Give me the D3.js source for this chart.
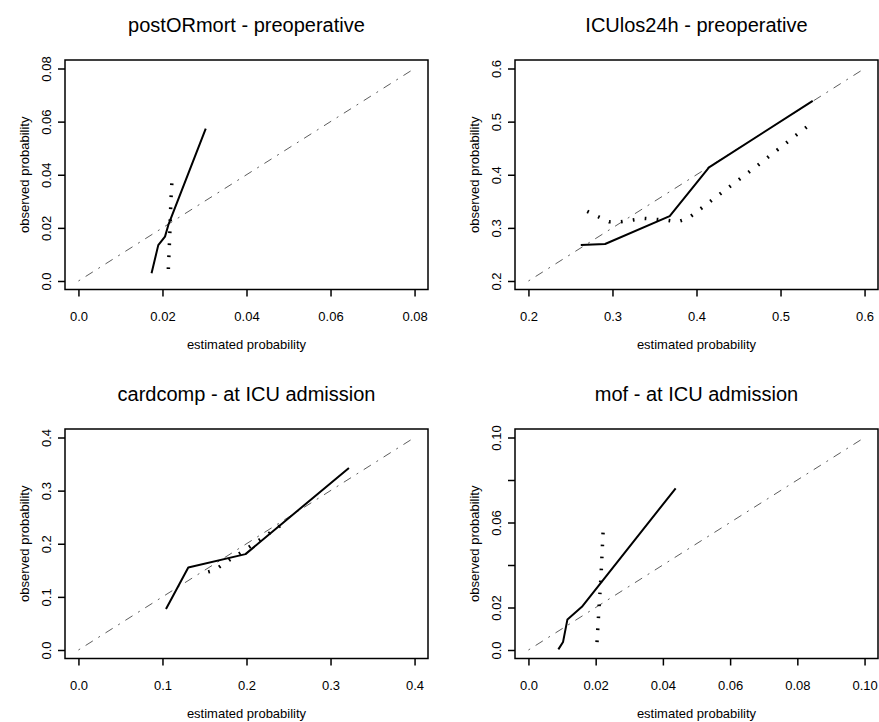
<!DOCTYPE html>
<html>
<head>
<meta charset="utf-8">
<script src="https://cdnjs.cloudflare.com/ajax/libs/d3/7.8.5/d3.min.js"></script>
<style>
  body { margin: 0; background: #fff; }
  svg { display: block; font-family: "Liberation Sans", Arial, Helvetica, sans-serif; }
</style>
</head>
<body>
<script>
var titles = ['postORmort - preoperative', 'ICUlos24h - preoperative', 'cardcomp - at ICU admission', 'mof - at ICU admission'];

var limits = [[0, 0.08], [0.2, 0.6], [0, 0.4], [0, 0.10]];

var tickValues = [
  [0, 0.02, 0.04, 0.06, 0.08],
  [0.2, 0.3, 0.4, 0.5, 0.6],
  [0, 0.1, 0.2, 0.3, 0.4],
  [0, 0.02, 0.04, 0.06, 0.08, 0.10]
];
var xTickLabels = [
  ['0.0', '0.02', '0.04', '0.06', '0.08'],
  ['0.2', '0.3', '0.4', '0.5', '0.6'],
  ['0.0', '0.1', '0.2', '0.3', '0.4'],
  ['0.0', '0.02', '0.04', '0.06', '0.08', '0.10']
];
var yTickLabels = [
  ['0.0', '0.02', '0.04', '0.06', '0.08'],
  ['0.2', '0.3', '0.4', '0.5', '0.6'],
  ['0.0', '0.1', '0.2', '0.3', '0.4'],
  ['0.0', '0.02', '', '0.06', '', '0.10']
];

// solid = calibration curve, dotted = second curve
var postORmortSolid = [[0.0174, 0.0029], [0.0190, 0.0135], [0.0206, 0.0167], [0.0214, 0.0211], [0.0303, 0.0574]];
var postORmortDotted = [[0.0214, 0.0045], [0.0216, 0.012], [0.0218, 0.020], [0.0220, 0.030], [0.0223, 0.039]];

var icuSolid = [[0.2623, 0.2677], [0.2912, 0.2696], [0.3681, 0.3222], [0.4149, 0.4138], [0.5383, 0.5391]];
var icuDotted = [[0.2700, 0.3310], [0.2832, 0.3209], [0.2960, 0.3115], [0.3099, 0.3115], [0.3364, 0.3179],
  [0.3634, 0.3147], [0.3772, 0.3115], [0.3899, 0.3179], [0.4014, 0.3316], [0.4680, 0.4119], [0.5360, 0.4960]];

var cardSolid = [[0.1042, 0.0771], [0.1307, 0.1554], [0.1988, 0.1805], [0.3219, 0.3427]];
var cardDotted = [[0.1544, 0.147], [0.1624, 0.1504], [0.1735, 0.163], [0.198, 0.188], [0.2427, 0.2368]];

var mofSolid = [[0.0089, 0.0003], [0.0103, 0.0038], [0.0116, 0.0144], [0.0159, 0.0203], [0.0438, 0.0761]];
var mofDotted = [[0.0204, 0.0037], [0.0210, 0.020], [0.0216, 0.035], [0.0222, 0.0553]];

var solids = [postORmortSolid, icuSolid, cardSolid, mofSolid];
var dotteds = [postORmortDotted, icuDotted, cardDotted, mofDotted];

buildPlot();

/* ===== BUILD PLOT FUNCTION ===== */

function buildPlot() {
  var w = 879;
  var h = 722;
  var boxW = 363;
  var boxH = 229.5;
  var lefts = [65, 515];
  var tops = [60, 429];
  var font = 13;

  var svg = d3.select('body')
    .append('svg')
    .attr('width', w)
    .attr('height', h);

  for (var i = 0; i < 4; i++) {
    var x0 = lefts[i % 2];
    var y0 = tops[Math.floor(i / 2)];
    var lo = limits[i][0], hi = limits[i][1];
    var ext = (hi - lo) * 0.04;

    /* ===== scales ===== */
    var xScale = d3.scaleLinear()
      .domain([lo - ext, hi + ext])
      .range([x0, x0 + boxW]);
    var yScale = d3.scaleLinear()
      .domain([lo - ext, hi + ext])
      .range([y0 + boxH, y0]);

    var g = svg.append('g');

    /* ===== lines ===== */
    var line = d3.line()
      .x(function(d) { return xScale(d[0]); })
      .y(function(d) { return yScale(d[1]); });

    g.append('path')
      .datum([[lo, lo], [hi, hi]])
      .attr('d', line)
      .attr('fill', 'none')
      .attr('stroke', '#333')
      .attr('stroke-width', 0.8)
      .attr('stroke-dasharray', '2 6.5 8.5 6.5');

    g.append('path')
      .datum(dotteds[i])
      .attr('d', line)
      .attr('fill', 'none')
      .attr('stroke', '#000')
      .attr('stroke-width', 3.5)
      .attr('stroke-dasharray', '1.7 10.3');

    g.append('path')
      .datum(solids[i])
      .attr('d', line)
      .attr('fill', 'none')
      .attr('stroke', '#000')
      .attr('stroke-width', 2)
      .attr('stroke-linejoin', 'round');

    /* ===== box ===== */
    g.append('rect')
      .attr('x', x0)
      .attr('y', y0)
      .attr('width', boxW)
      .attr('height', boxH)
      .attr('fill', 'none')
      .attr('stroke', '#000')
      .attr('stroke-width', 1.5);

    /* ===== axes ===== */
    var xl = xTickLabels[i];
    var yl = yTickLabels[i];

    var xAxis = d3.axisBottom(xScale)
      .tickValues(tickValues[i])
      .tickFormat(function(d, k) { return xl[k]; })
      .tickSize(7)
      .tickPadding(15);
    var yAxis = d3.axisLeft(yScale)
      .tickValues(tickValues[i])
      .tickFormat(function(d, k) { return yl[k]; })
      .tickSize(7);

    var gx = g.append('g')
      .attr('transform', 'translate(0,' + (y0 + boxH) + ')')
      .call(xAxis);
    var gy = g.append('g')
      .attr('transform', 'translate(' + x0 + ',0)')
      .call(yAxis);

    [gx, gy].forEach(function(a) {
      a.select('.domain').remove();
      a.selectAll('line').attr('stroke', '#000').attr('stroke-width', 1.5);
      a.selectAll('text')
        .attr('fill', '#000')
        .style('font-size', font + 'px')
        .style('font-family', '"Liberation Sans", Arial, sans-serif');
    });

    gy.selectAll('text')
      .attr('x', 0)
      .attr('y', -19)
      .attr('dy', '0.35em')
      .attr('text-anchor', 'middle')
      .attr('transform', 'rotate(-90)');

    /* ===== labels ===== */
    g.append('text')
      .attr('x', x0 + boxW / 2)
      .attr('y', y0 - 35)
      .attr('dy', '0.35em')
      .attr('text-anchor', 'middle')
      .style('font-size', '20px')
      .text(titles[i]);

    g.append('text')
      .attr('x', x0 + boxW / 2)
      .attr('y', y0 + boxH + 55)
      .attr('dy', '0.35em')
      .attr('text-anchor', 'middle')
      .style('font-size', font + 'px')
      .text('estimated probability');

    g.append('text')
      .attr('transform', 'translate(' + (x0 - 41) + ',' + (y0 + boxH / 2) + ') rotate(-90)')
      .attr('dy', '0.35em')
      .attr('text-anchor', 'middle')
      .style('font-size', font + 'px')
      .text('observed probability');
  }
}
</script>
</body>
</html>
